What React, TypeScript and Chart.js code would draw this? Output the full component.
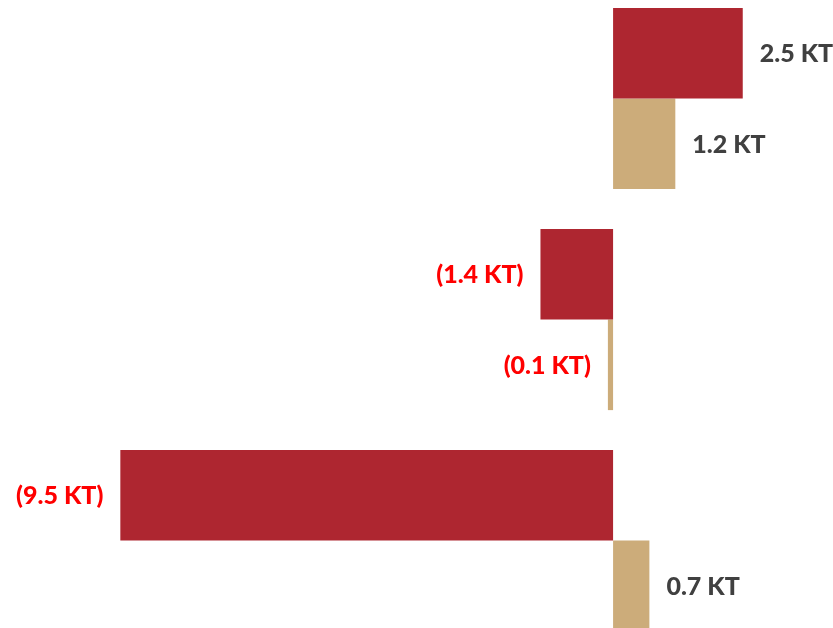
import React, { useEffect, useRef } from "react";
import { Chart, registerables } from "chart.js";

Chart.register(...registerables);

const categories = ["A", "B", "C"];
const seriesRed = [2.5, -1.4, -9.5];
const seriesTan = [1.2, -0.1, 0.7];
const xMin = -11.82;
const xMax = 4.24;

const fmt = (v: number) =>
  v < 0 ? `(${Math.abs(v).toFixed(1)} KT)` : `${v.toFixed(1)} KT`;

const labelPlugin = {
  id: "barLabels",
  afterDatasetsDraw(chart: any) {
    const ctx = chart.ctx;
    ctx.save();
    ctx.font = "900 25px Lato, 'Open Sans', sans-serif";
    ctx.textBaseline = "middle";
    chart.data.datasets.forEach((ds: any, di: number) => {
      const meta = chart.getDatasetMeta(di);
      meta.data.forEach((el: any, i: number) => {
        const v = ds.data[i] as number;
        const base = chart.scales.x.getPixelForValue(0);
        if (v < 0) {
          ctx.fillStyle = "#FF0000";
          ctx.textAlign = "right";
          ctx.fillText(fmt(v), Math.min(el.x, base) - 17, el.y + 1);
        } else {
          ctx.fillStyle = "#404040";
          ctx.textAlign = "left";
          ctx.fillText(fmt(v), Math.max(el.x, base) + 17, el.y + 1);
        }
      });
    });
    ctx.restore();
  },
};

export default function App() {
  const ref = useRef<HTMLCanvasElement>(null);
  useEffect(() => {
    if (!ref.current) return;
    const chart = new Chart(ref.current, {
      type: "bar",
      data: {
        labels: categories,
        datasets: [
          { data: seriesRed, backgroundColor: "#AE2630", borderWidth: 0 },
          { data: seriesTan, backgroundColor: "#CCAC7A", borderWidth: 0 },
        ],
      },
      options: {
        indexAxis: "y",
        responsive: false,
        animation: false,
        devicePixelRatio: 1,
        layout: { padding: 0 },
        datasets: { bar: { categoryPercentage: 0.82, barPercentage: 1 } },
        scales: {
          x: { display: false, min: xMin, max: xMax },
          y: { display: false },
        },
        plugins: { legend: { display: false }, tooltip: { enabled: false } },
      },
      plugins: [labelPlugin],
    });
    return () => chart.destroy();
  }, []);
  return (
    <div
      style={{
        position: "fixed",
        left: 0,
        top: 0,
        width: 833,
        height: 628,
        overflow: "hidden",
        background: "#fff",
      }}
    >
      <div style={{ position: "absolute", left: 0, top: -12, width: 833, height: 663 }}>
        <canvas ref={ref} width={833} height={663} style={{ display: "block" }} />
      </div>
    </div>
  );
}
